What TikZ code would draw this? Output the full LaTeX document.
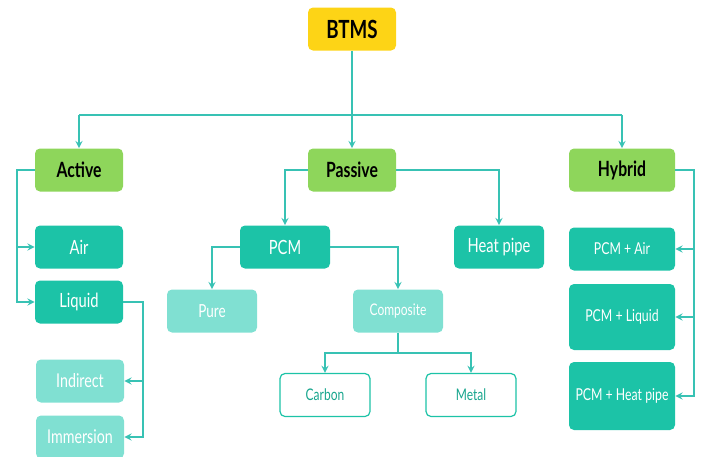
\documentclass[tikz,border=0pt]{standalone}
\usepackage{fontspec}
\setmainfont{Lato}[FakeStretch=0.75]
\usepackage{xcolor}
\usepackage{tikz}

\definecolor{btmsyellow}{HTML}{FDD416}
\definecolor{catgreen}{HTML}{8ED65B}
\definecolor{darkteal}{HTML}{1CC3A7}
\definecolor{lightteal}{HTML}{80E0D2}
\definecolor{linkteal}{HTML}{38C2B4}

\tikzset{
    box/.style={rounded corners=2.5pt, inner sep=1pt, minimum width=44pt, minimum height=21.5pt, align=center},
    topbox/.style={box, fill=btmsyellow, font=\bfseries\fontsize{12.5}{14}\selectfont},
    catbox/.style={box, fill=catgreen, font=\bfseries\fontsize{10.5}{12}\selectfont},
    subbox/.style={box, fill=darkteal, text=white, font=\fontsize{9.8}{11}\selectfont},
    leafbox/.style={box, fill=lightteal, text=white, font=\fontsize{9.5}{11}\selectfont},
    outbox/.style={box, draw=darkteal, line width=0.6pt, fill=white, text=darkteal!85!black, font=\fontsize{8}{10}\selectfont},
    link/.style={draw=linkteal, line width=0.6pt, >=stealth}
}

\begin{document}
\begin{tikzpicture}[x=0.5pt, y=-0.5pt]
    \useasboundingbox (0,0) rectangle (702,456);

    % top
    \node[topbox] (btms) at (352,29) {BTMS};
    \node[catbox] (active) at (79,170) {Active};
    \node[catbox] (passive) at (352,170) {Passive};
    \node[catbox, minimum width=53pt] (hybrid) at (622,170) {Hybrid};
    \coordinate (bus) at (352,115);

    % active branch
    \node[subbox] (air) at (79,247) {Air};
    \node[subbox] (liquid) at (79,302) {Liquid};
    \node[leafbox] (indirect) at (80,381) {Indirect};
    \node[leafbox] (immersion) at (80,437) {Immersion};
    \coordinate (actL) at (17,170);
    \coordinate (liqR) at (143,302);

    % passive branch
    \node[subbox, minimum width=45pt] (pcm) at (285,247) {PCM};
    \node[subbox, minimum width=45pt] (heatpipe) at (499,247) {Heat pipe};
    \node[leafbox, minimum width=45pt, font=\fontsize{9}{11}\selectfont] (pure) at (212,311) {Pure};
    \node[leafbox, minimum width=45pt, font=\fontsize{8}{10}\selectfont] (composite) at (398,311) {Composite};
    \node[outbox, minimum width=45pt] (carbon) at (325,395) {Carbon};
    \node[outbox, minimum width=45pt] (metal) at (471,395) {Metal};
    \coordinate (compB) at (398,353);

    % hybrid branch
    \node[subbox, minimum width=53pt, font=\fontsize{8.2}{10}\selectfont] (pcmair) at (622,249) {PCM + Air};
    \node[subbox, minimum width=53pt, minimum height=33pt, font=\fontsize{8.2}{10}\selectfont] (pcmliquid) at (622,317) {PCM + Liquid};
    \node[subbox, minimum width=53pt, minimum height=34pt, font=\fontsize{8.2}{10}\selectfont] (pcmheat) at (622,396) {PCM + Heat pipe};
    \coordinate (hybR) at (694,170);

    % connectors
    \draw[link, ->] (btms) -- (passive);
    \draw[link] (active.north |- bus) -- (hybrid.north |- bus);
    \draw[link, ->] (active.north |- bus) -- (active.north);
    \draw[link, ->] (hybrid.north |- bus) -- (hybrid.north);

    \draw[link, ->] (active.west) -- (actL) |- (liquid.west);
    \draw[link, ->] (actL |- air) -- (air.west);
    \draw[link, ->] (liquid.east) -- (liqR) |- (immersion.east);
    \draw[link, ->] (liqR |- indirect) -- (indirect.east);

    \draw[link, ->] (passive.west) -| (pcm.north);
    \draw[link, ->] (passive.east) -| (heatpipe.north);
    \draw[link, ->] (pcm.west) -| (pure.north);
    \draw[link, ->] (pcm.east) -| (composite.north);
    \draw[link] (composite.south) -- (compB);
    \draw[link, ->] (compB) -| (carbon.north);
    \draw[link, ->] (compB) -| (metal.north);

    \draw[link, ->] (hybrid.east) -- (hybR) |- (pcmheat.east);
    \draw[link, ->] (hybR |- pcmair) -- (pcmair.east);
    \draw[link, ->] (hybR |- pcmliquid) -- (pcmliquid.east);
\end{tikzpicture}
\end{document}
